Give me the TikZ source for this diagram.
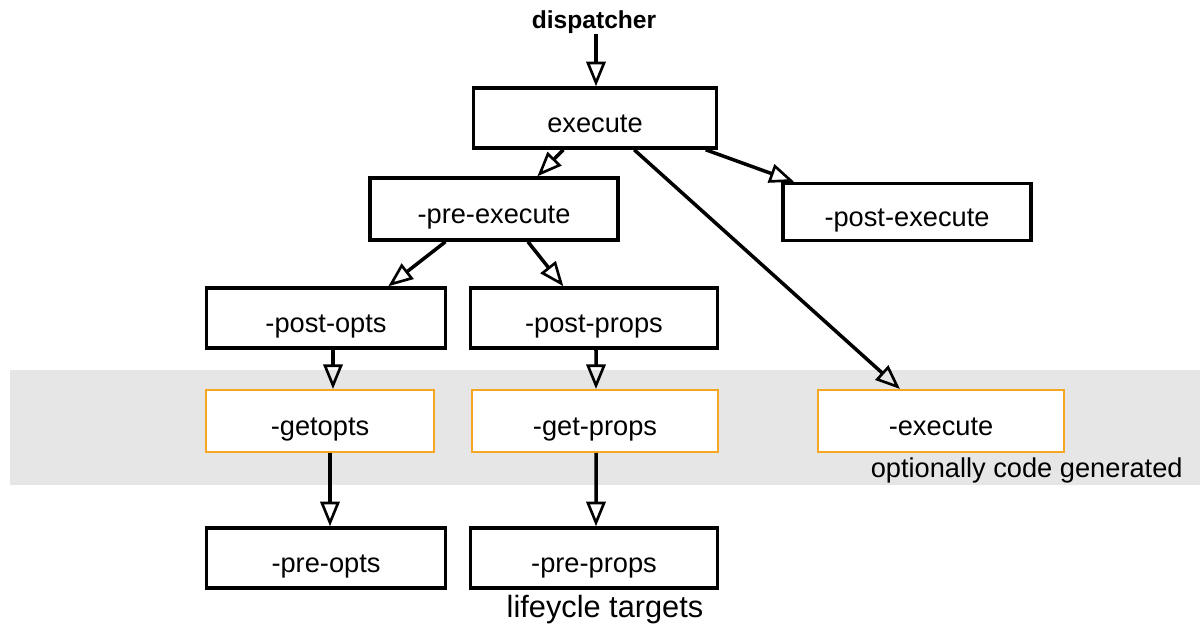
\documentclass[tikz,border=0pt]{standalone}
\usepackage{fontspec}
\setmainfont{Liberation Sans}
\usetikzlibrary{arrows.meta}
\definecolor{bandgray}{HTML}{E6E6E6}
\definecolor{orangeline}{HTML}{F5A623}
\begin{document}
\begin{tikzpicture}[x=0.02cm,y=-0.02cm,
  box/.style={draw=black,line width=2pt,fill=white,minimum width=4.9cm,minimum height=1.2cm,inner sep=0pt,text depth=0pt,text height=16pt,font=\fontsize{15.5pt}{18pt}\selectfont},
  genbox/.style={box,draw=orangeline,line width=1.2pt},
  arr/.style={line width=2pt,-{Triangle[open,length=14pt,width=11pt,line width=1.5pt]}},
  lbl/.style={font=\fontsize{15.5pt}{18pt}\selectfont,inner sep=0pt}]
\useasboundingbox (0,0) rectangle (1200,627);
\fill[bandgray] (10,370) rectangle (1200,485);
\node[lbl,font=\bfseries\fontsize{14pt}{16pt}\selectfont] (disp) at (594,22) {dispatcher};
\node[box,minimum width=4.86cm] (execute) at (595,118) {execute};
\node[box,minimum width=4.96cm,minimum height=1.24cm] (preexec) at (494,209) {-pre-execute};
\node[box,minimum width=4.96cm,minimum height=1.14cm] (postexec) at (907,212) {-post-execute};
\node[box,minimum width=4.78cm] (postopts) at (326,318) {-post-opts};
\node[box,minimum width=4.94cm] (postprops) at (594,318) {-post-props};
\node[genbox,minimum width=4.56cm,minimum height=1.24cm] (getopts) at (320,421) {-getopts};
\node[genbox,minimum width=4.92cm,minimum height=1.24cm] (getprops) at (595,421) {-get-props};
\node[genbox,minimum width=4.92cm,minimum height=1.24cm] (exec2) at (941,421) {-execute};
\node[lbl,anchor=east] (opt) at (1183,470) {optionally code generated};
\node[box,minimum width=4.78cm] (preopts) at (326,558) {-pre-opts};
\node[box,minimum width=4.94cm] (preprops) at (594,558) {-pre-props};
\node[lbl,font=\fontsize{17.5pt}{20pt}\selectfont] (title) at (605,610) {lifeycle targets};
\draw[arr] (disp.south) ++(2,0) coordinate (d1) (d1) -- (d1 |- execute.north);
\draw[arr] (execute.225) -- (preexec.37);
\draw[arr] (execute.344) -- (postexec.165.7);
\draw[arr] (execute.321.7) -- (exec2.142.9);
\draw[arr] (preexec.214) -- (postopts.27);
\draw[arr] (preexec.316.8) -- (postprops.134);
\draw[arr] ([xshift=0.14cm]postopts.south) -- ([xshift=0.26cm]getopts.north);
\draw[arr] ([xshift=0.04cm]postprops.south) -- ([xshift=0.02cm]getprops.north);
\draw[arr] ([xshift=0.2cm]getopts.south) -- ([xshift=0.08cm]preopts.north);
\draw[arr] ([xshift=0.02cm]getprops.south) -- ([xshift=0.04cm]preprops.north);
\end{tikzpicture}
\end{document}
